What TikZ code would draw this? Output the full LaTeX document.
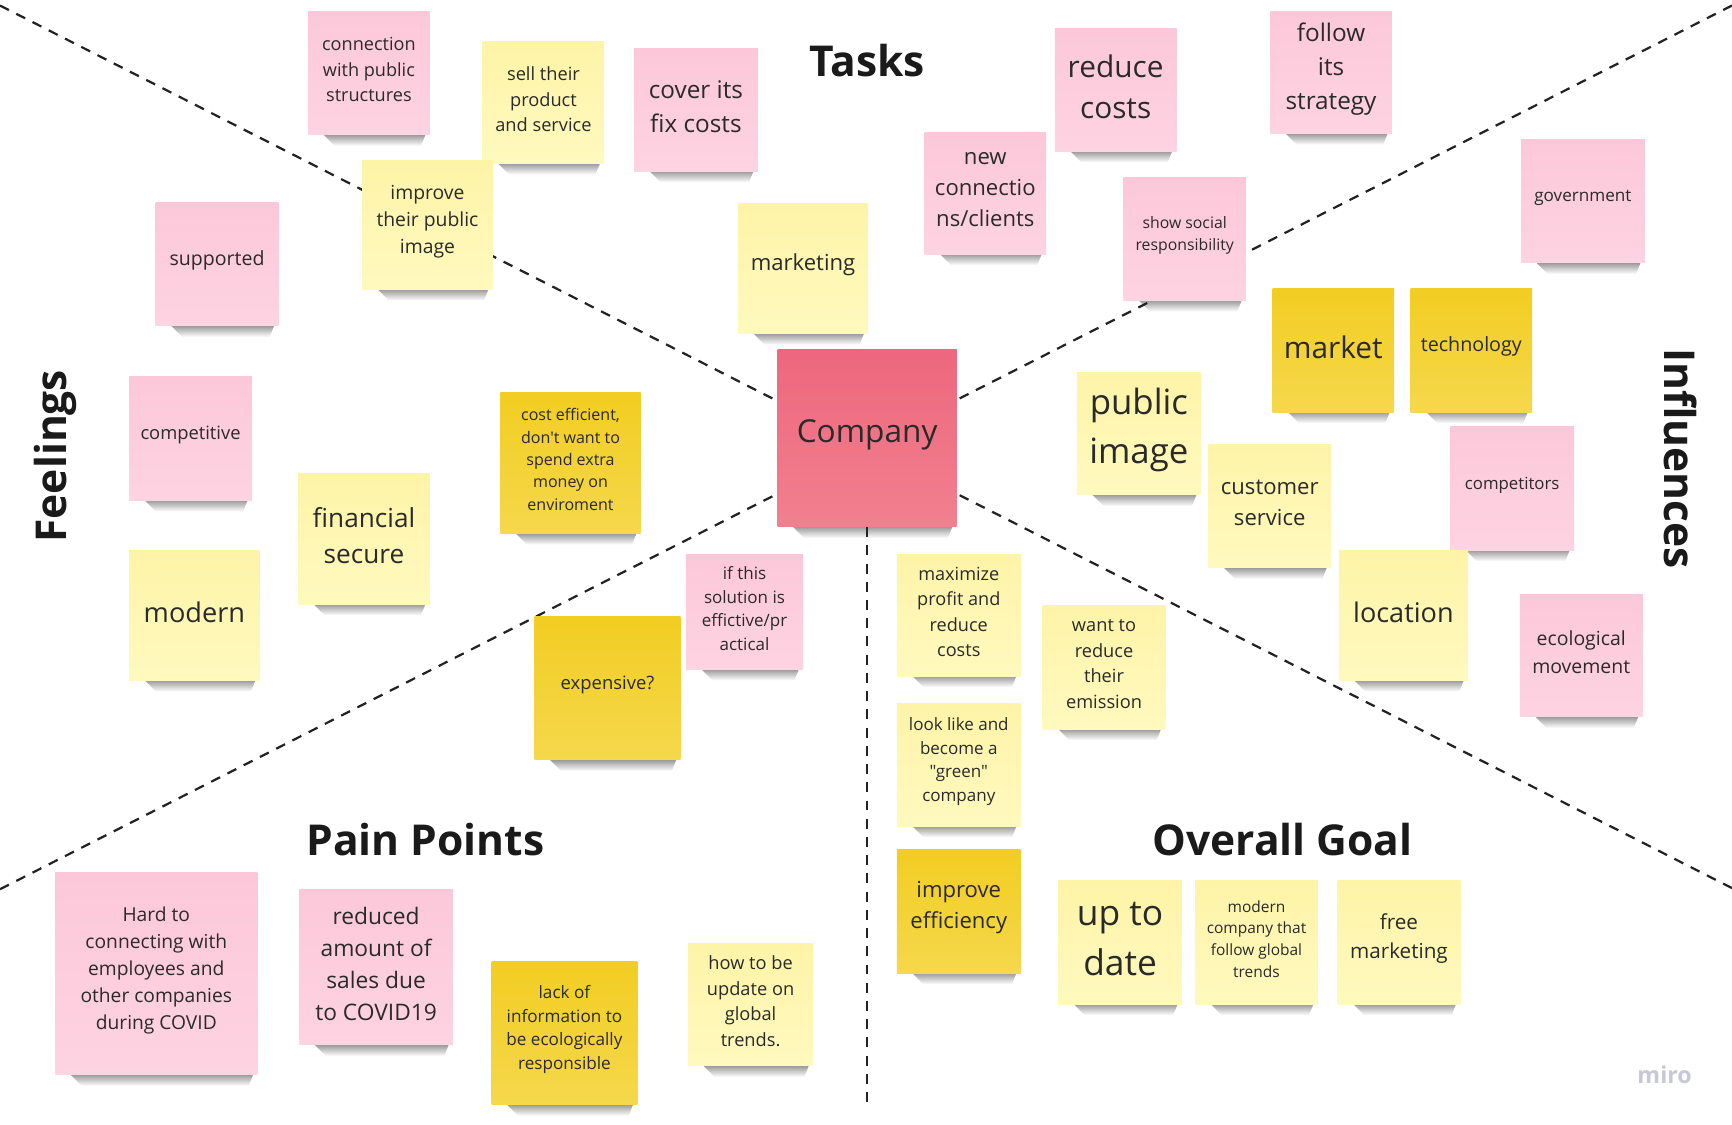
\documentclass[tikz,border=0pt]{standalone}
\usepackage{fontspec}
\setmainfont{Open Sans}[Ligatures=TeXOff]
\usetikzlibrary{fadings,backgrounds,calc}
\definecolor{pinkT}{HTML}{FCC8D9}
\definecolor{pinkB}{HTML}{FED3E2}
\definecolor{ylT}{HTML}{FEF4A8}
\definecolor{ylB}{HTML}{FFF9BE}
\definecolor{ydT}{HTML}{F2CD22}
\definecolor{ydB}{HTML}{F5D84C}
\definecolor{comT}{HTML}{ED677D}
\definecolor{comB}{HTML}{F1808F}
\definecolor{txtc}{HTML}{2A2A2A}
\definecolor{titc}{HTML}{1A1A1A}
\definecolor{miroc}{HTML}{C6C8D5}
\definecolor{linec}{HTML}{222222}
\tikzfading[name=shfade, top color=transparent!45, bottom color=transparent!100]
\newcommand\fsz[1]{\pgfmathsetmacro\mylead{1.4*#1}\fontsize{#1}{\mylead}\selectfont}
% name, x, y, w, h, style, fontsize, text
\newcommand\snote[8]{%
  \fill[black!85, path fading=shfade] ({#2+12},{#3+#5-2}) -- ({#2+#4-3},{#3+#5-2}) -- ({#2+#4-8},{#3+#5+10}) -- ({#2+24},{#3+#5+10}) -- cycle;
  \node[notebox, #6, minimum width=#4pt, minimum height=#5pt] (#1) at ({#2+#4/2},{#3+#5/2}) {};
  \node[notetext, font=\fsz{#7}] (#1-t) at ([yshift=3pt]#1.center) {#8};
}
\tikzset{
  notebox/.style={inner sep=0pt},
  notetext/.style={inner sep=0pt, align=center, text=txtc},
  pinknote/.style={top color=pinkT, bottom color=pinkB},
  ylnote/.style={top color=ylT, bottom color=ylB},
  ydnote/.style={top color=ydT, bottom color=ydB},
  comnote/.style={top color=comT, bottom color=comB},
  ttl/.style={inner sep=0pt, text=titc, font=\bfseries\fontsize{38.5}{44}\selectfont},
  divider/.style={draw=linec, line width=2pt, dash pattern=on 9pt off 7.5pt},
}
\begin{document}
\begin{tikzpicture}[x=1pt,y=-1pt]
\useasboundingbox (0,0) rectangle (1568,1018);

% ---------- Tasks ----------
\snote{conn}{279}{10}{110}{112}{pinknote}{16.4}{connection\\with public\\structures}
\snote{sell}{437}{38}{110}{110}{ylnote}{16.5}{sell their\\product\\and service}
\snote{cover}{574}{44}{112}{111}{pinknote}{22}{cover its\\fix costs}
\snote{improve}{328}{145}{118}{117}{ylnote}{17.5}{improve\\their public\\image}
\snote{marketing}{668}{184}{118}{118}{ylnote}{20}{marketing}
\snote{newconn}{837}{120}{110}{110}{pinknote}{20}{new\\connectio\\ns/clients}
\snote{reduce}{955}{26}{110}{111}{pinknote}{27}{reduce\\costs}
\snote{social}{1017}{161}{111}{111}{pinknote}{14.3}{show social\\responsibility}
\snote{follow}{1150}{10}{110}{111}{pinknote}{22}{follow\\its\\strategy}

% ---------- Influences ----------
\snote{government}{1377}{126}{112}{112}{pinknote}{15.5}{government}
\snote{market}{1152}{261}{110}{112}{ydnote}{27}{market}
\snote{technology}{1277}{261}{110}{112}{ydnote}{17.8}{technology}
\snote{publicimage}{975}{337}{112}{111}{ylnote}{31.5}{public\\image}
\snote{customer}{1094}{402}{111}{112}{ylnote}{20}{customer\\service}
\snote{competitors}{1313}{386}{112}{112}{pinknote}{15.2}{competitors}
\snote{location}{1212}{498}{117}{118}{ylnote}{24.5}{location}
\snote{ecological}{1376}{538}{111}{111}{pinknote}{17.6}{ecological\\movement}

% ---------- Company ----------
\snote{company}{704}{316}{162}{161}{comnote}{28.6}{Company}

% ---------- Feelings ----------
\snote{supported}{141}{183}{111}{112}{pinknote}{17.7}{supported}
\snote{competitive}{117}{341}{111}{112}{pinknote}{16.6}{competitive}
\snote{financial}{270}{429}{119}{118}{ylnote}{23.7}{financial\\secure}
\snote{modern}{117}{498}{118}{118}{ylnote}{24.6}{modern}
\snote{costeff}{453}{355}{127}{128}{ydnote}{14.5}{cost efficient,\\don't want to\\spend extra\\money on\\enviroment}

% ---------- Pain Points ----------
\snote{expensive}{484}{558}{132}{130}{ydnote}{16.7}{expensive?}
\snote{ifthis}{621}{502}{106}{104}{pinknote}{15.4}{if this\\solution is\\effictive/pr\\actical}
\snote{hard}{50}{790}{183}{183}{pinknote}{17.4}{Hard to\\connecting with\\employees and\\other companies\\during COVID}
\snote{reduced}{271}{805}{139}{141}{pinknote}{20.6}{reduced\\amount of\\sales due\\to COVID19}
\snote{lack}{445}{870}{132}{130}{ydnote}{15.5}{lack of\\information to\\be ecologically\\responsible}
\snote{howto}{623}{854}{113}{111}{ylnote}{16.5}{how to be\\update on\\global\\trends.}

% ---------- Overall Goal ----------
\snote{maximize}{812}{502}{112}{110}{ylnote}{16.4}{maximize\\profit and\\reduce\\costs}
\snote{want}{944}{548}{111}{112}{ylnote}{16.5}{want to\\reduce\\their\\emission}
\snote{look}{812}{637}{112}{111}{ylnote}{15.4}{look like and\\become a\\"green"\\company}
\snote{effic}{812}{769}{112}{112}{ydnote}{20}{improve\\efficiency}
\snote{uptodate}{958}{797}{112}{112}{ylnote}{32}{up to\\date}
\snote{moderncomp}{1082}{797}{111}{112}{ylnote}{14}{modern\\company that\\follow global\\trends}
\snote{free}{1211}{797}{111}{112}{ylnote}{18.7}{free\\marketing}

% ---------- Titles ----------
\node[ttl] (tasks) at (785,55) {Tasks};
\node[ttl] (pain) at (385,760) {Pain Points};
\node[ttl] (goal) at (1161,760) {Overall Goal};
\node[ttl, rotate=90] (feelings) at (50,413) {Feelings};
\node[ttl, rotate=-90] (influences) at (1521,415) {Influences};
\node[inner sep=0pt, text=miroc, font=\bfseries\fontsize{21}{24}\selectfont] (miro) at (1507,973) {miro};

% ---------- Dividers (behind everything) ----------
\coordinate (eTL) at (0,5);
\coordinate (eTR) at (1568,5);
\coordinate (eBL) at (0,805);
\coordinate (eBR) at (1568,804);
\coordinate (eB) at (785,1005);
\begin{pgfonlayer}{background}
  \fill[white] (0,0) rectangle (1568,1018);
  \draw[divider] (eTL) -- ([yshift=33.5pt]company.west);
  \draw[divider] (eTR) -- ([yshift=34.5pt]company.east);
  \draw[divider] (eBL) -- ([yshift=-50.5pt]company.west);
  \draw[divider] (eBR) -- ([yshift=-50.5pt]company.east);
  \draw[divider] (company.south) -- (eB);
\end{pgfonlayer}
\end{tikzpicture}
\end{document}
